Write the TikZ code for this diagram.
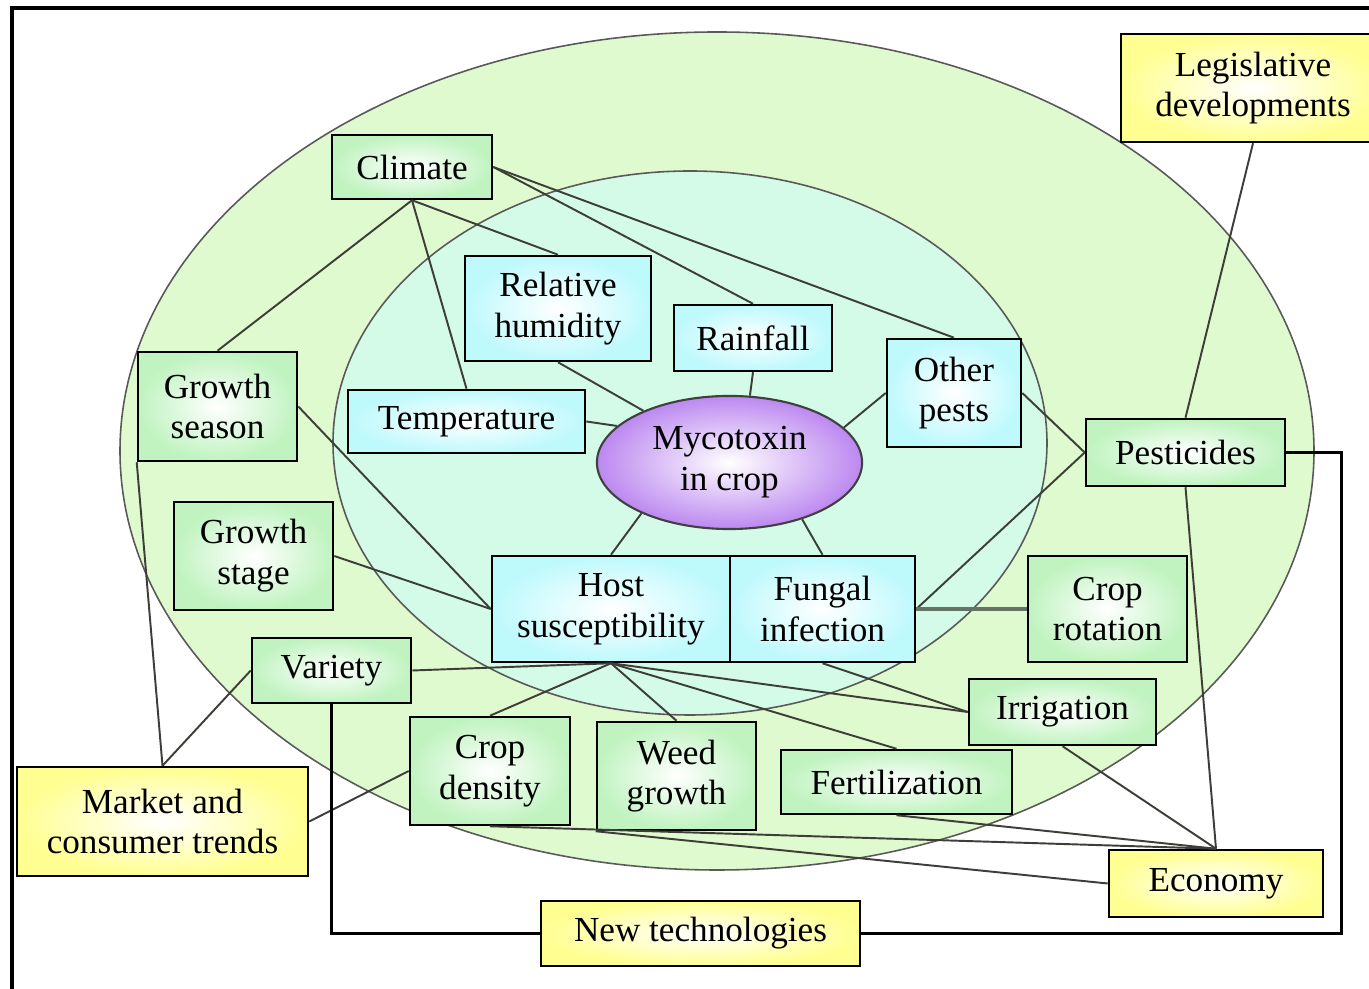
\documentclass[tikz,border=0pt]{standalone}
\usepackage{fontspec}
\setmainfont{Liberation Serif}
\usetikzlibrary{shapes.geometric}
\definecolor{outerring}{RGB}{224,250,208}
\definecolor{innerring}{RGB}{212,250,232}
\definecolor{boxgreen}{RGB}{192,243,192}
\definecolor{boxcyan}{RGB}{190,249,252}
\definecolor{boxyellow}{RGB}{255,255,145}
\definecolor{mycopurple}{RGB}{188,136,240}
\definecolor{linkgray}{RGB}{60,62,55}
\definecolor{rotgray}{RGB}{100,115,100}
\tikzset{
    factor/.style={draw=black, line width=0.7pt, align=center, inner sep=0pt, inner color=white, font=\fontsize{10}{11.6}\selectfont},
    greenbox/.style={factor, outer color=boxgreen},
    cyanbox/.style={factor, outer color=boxcyan},
    trendbox/.style={factor, outer color=boxyellow},
    link/.style={draw=linkgray, line width=0.55pt},
    wire/.style={draw=black, line width=0.9pt}
}

\begin{document}
\begin{tikzpicture}[x=0.01cm, y=-0.01cm]
        \useasboundingbox (0,0) rectangle (1369,989);
        \fill[white] (0,0) rectangle (1369,989);
        \draw[line width=1pt] (1369,8) -- (12,8) -- (12,989);
        \filldraw[fill=outerring, draw=black!65, line width=0.45pt] (717,451) ellipse [x radius=597, y radius=419];
        \filldraw[fill=innerring, draw=black!65, line width=0.45pt] (690,443) ellipse [x radius=357, y radius=272];

        \node[ellipse, factor, draw=black!75, line width=0.6pt, outer color=mycopurple, minimum width=2.65cm, minimum height=1.33cm] (myco) at (729.5,462.5) {Mycotoxin\\in crop};
        \node[greenbox, minimum width=1.6cm, minimum height=0.64cm] (climate) at (412,167) {Climate};
        \node[cyanbox, minimum width=1.86cm, minimum height=1.05cm] (relhum) at (558,308.5) {Relative\\humidity};
        \node[cyanbox, minimum width=1.58cm, minimum height=0.66cm] (rain) at (753,338) {Rainfall};
        \node[cyanbox, minimum width=1.34cm, minimum height=1.08cm] (pests) at (954,393) {Other\\pests};
        \node[cyanbox, minimum width=2.37cm, minimum height=0.63cm] (temp) at (466.5,421.5) {Temperature};
        \node[greenbox, minimum width=1.59cm, minimum height=1.09cm] (season) at (217.5,406.5) {Growth\\season};
        \node[greenbox, minimum width=1.59cm, minimum height=1.08cm] (stage) at (253.5,556) {Growth\\stage};
        \node[cyanbox, minimum width=2.38cm, minimum height=1.06cm] (host) at (611,609) {Host\\susceptibility};
        \node[cyanbox, minimum width=1.85cm, minimum height=1.06cm] (fungal) at (822.5,609) {Fungal\\infection};
        \node[greenbox, minimum width=1.59cm, minimum height=1.06cm] (rotation) at (1107.5,609) {Crop\\rotation};
        \node[greenbox, minimum width=1.59cm, minimum height=0.65cm] (variety) at (331.5,670.5) {Variety};
        \node[greenbox, minimum width=1.87cm, minimum height=0.66cm] (irrig) at (1062.5,712) {Irrigation};
        \node[greenbox, minimum width=1.6cm, minimum height=1.08cm] (density) at (490,771) {Crop\\density};
        \node[greenbox, minimum width=1.59cm, minimum height=1.08cm] (weed) at (676.5,776) {Weed\\growth};
        \node[greenbox, minimum width=2.31cm, minimum height=0.64cm] (fert) at (896.5,782) {Fertilization};
        \node[greenbox, minimum width=1.99cm, minimum height=0.67cm] (pestic) at (1185.5,452.5) {Pesticides};
        \node[trendbox, minimum width=2.64cm, minimum height=1.08cm] (legis) at (1253,88) {Legislative\\developments};
        \node[trendbox, minimum width=2.91cm, minimum height=1.09cm] (market) at (162.5,821.5) {Market and\\consumer trends};
        \node[trendbox, minimum width=2.14cm, minimum height=0.67cm] (economy) at (1216,883.5) {Economy};
        \node[trendbox, minimum width=3.19cm, minimum height=0.65cm] (newtech) at (700.5,933.5) {New technologies};

        \draw[link] (climate.south) -- (season.north);
        \draw[link] (climate.south) -- (temp.north);
        \draw[link] (climate.south) -- (relhum.north);
        \draw[link] (climate.east) -- (rain.north);
        \draw[link] (climate.east) -- (pests.north);
        \draw[link] (relhum.south) -- (myco.149);
        \draw[link] (rain.south) -- (myco.73);
        \draw[link] (temp.east) -- (myco.162);
        \draw[link] (pests.west) -- (myco.17);
        \draw[link] (host.north) -- (myco.210);
        \draw[link] (fungal.north) -- (myco.322);
        \draw[link] (pests.east) -- (pestic.west);
        \draw[link] (pestic.west) -- (fungal.east);
        \draw[line width=1.1pt, draw=rotgray] (rotation.west) -- (fungal.east);
        \draw[link] (legis.south) -- (pestic.north);
        \draw[link] (pestic.south) -- (economy.north);
        \draw[link] (season.east) -- (host.west);
        \draw[link] (stage.east) -- (host.west);
        \draw[link] (season.south west) -- (market.north);
        \draw[link] (variety.west) -- (market.north);
        \draw[link] (market.east) -- (density.west);
        \draw[link] (variety.east) -- (host.south);
        \draw[link] (host.south) -- (density.north);
        \draw[link] (host.south) -- (weed.north);
        \draw[link] (host.south) -- (fert.north);
        \draw[link] (host.south) -- (irrig.west);
        \draw[link] (fungal.south) -- (irrig.west);
        \draw[link] (irrig.south) -- (economy.north);
        \draw[link] (fert.south) -- (economy.north);
        \draw[link] (density.south) -- (economy.north);
        \draw[link] (weed.south west) -- (economy.west);
        \draw[wire] (pestic.east) -- ++(55,0) |- (newtech.east);
        \draw[wire] (variety.south) |- (newtech.west);
    \end{tikzpicture}
\end{document}
